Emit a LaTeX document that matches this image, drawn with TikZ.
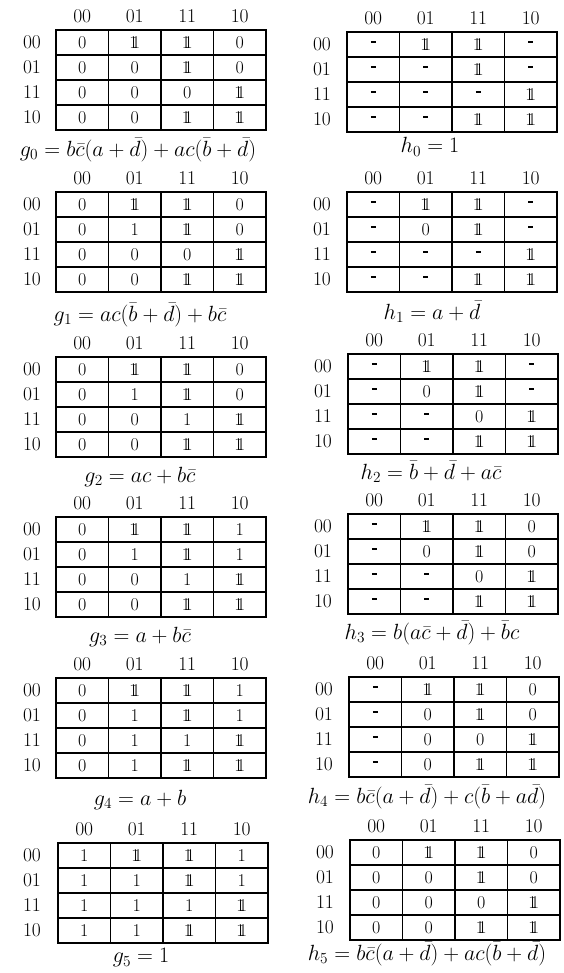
\RequirePackage{fix-cm}
\documentclass[tikz,border=0pt]{standalone}
\usepackage{amsmath}
\newcommand\dI{\ensuremath{1\kern-0.32em1}}
\newcommand\dc{\rule[4.5pt]{5pt}{1.6pt}}
\tikzset{
  lbl/.style={font=\fontsize{19.5}{22}\selectfont, inner sep=0pt},
  celltext/.style={font=\fontsize{18}{21}\selectfont, inner sep=0pt},
  frm/.style={font=\fontsize{22}{26}\selectfont, inner sep=0pt},
  gridline/.style={line width=1.3pt},
}
% #1 name, #2 grid left x, #3 grid top y, #4 label x, #5 formula x, #6 formula y, #7 formula, #8 data
\newcommand\kmap[8]{%
  \foreach \h [count=\c] in {00,01,11,10}
    \node[lbl] (#1-h\c) at ({#2+52.5*(\c-0.5)}, {#3-13.5}) {$\h$};
  \foreach \h [count=\r] in {00,01,11,10}
    \node[lbl] (#1-v\r) at (#4, {#3+12.5+25*(\r-1)}) {$\h$};
  \draw[gridline] (#2,#3) rectangle ({#2+210},{#3+100});
  \foreach \k in {1,2,3} {
    \draw[gridline] ({#2+52.5*\k},#3) -- ({#2+52.5*\k},{#3+100});
    \draw[gridline] (#2,{#3+25*\k}) -- ({#2+210},{#3+25*\k});
  }
  \foreach \row [count=\r] in {#8}
    \foreach \v [count=\c] in \row
      \node[celltext] (#1-\r-\c) at ({#2+52.5*(\c-0.5)}, {#3+12.5+25*(\r-1)}) {$\v$};
  \node[frm] (#1-f) at (#5,#6) {#7};
}
\begin{document}
\begin{tikzpicture}[x=1pt,y=-1pt]
\useasboundingbox (0,0) rectangle (564,973);
% left column
\kmap{g0}{56}{30}{32}{138}{150}{$g_0=b\bar c(a+\bar d)+ac(\bar b+\bar d)$}
  {{0,\dI,\dI,0},{0,0,\dI,0},{0,0,0,\dI},{0,0,\dI,\dI}}
\kmap{g1}{56}{192}{32}{140}{315}{$g_1=ac(\bar b+\bar d)+b\bar c$}
  {{0,\dI,\dI,0},{0,1,\dI,0},{0,0,0,\dI},{0,0,\dI,\dI}}
\kmap{g2}{56}{357}{32}{140}{477}{$g_2=ac+b\bar c$}
  {{0,\dI,\dI,0},{0,1,\dI,0},{0,0,1,\dI},{0,0,\dI,\dI}}
\kmap{g3}{56}{517}{32}{140}{637}{$g_3=a+b\bar c$}
  {{0,\dI,\dI,1},{0,1,\dI,1},{0,0,1,\dI},{0,0,\dI,\dI}}
\kmap{g4}{56}{678}{32}{140}{800}{$g_4=a+b$}
  {{0,\dI,\dI,1},{0,1,\dI,1},{0,1,1,\dI},{0,1,\dI,\dI}}
\kmap{g5}{58}{843}{32}{141}{958}{$g_5=1$}
  {{1,\dI,\dI,1},{1,1,\dI,1},{1,1,1,\dI},{1,1,\dI,\dI}}
% right column
\kmap{h0}{347}{32}{322}{430}{147}{$h_0=1$}
  {{\dc,\dI,\dI,\dc},{\dc,\dc,\dI,\dc},{\dc,\dc,\dc,\dI},{\dc,\dc,\dI,\dI}}
\kmap{h1}{347}{192}{322}{432}{312}{$h_1=a+\bar d$}
  {{\dc,\dI,\dI,\dc},{\dc,0,\dI,\dc},{\dc,\dc,\dc,\dI},{\dc,\dc,\dI,\dI}}
\kmap{h2}{348}{354}{323}{431}{472}{$h_2=\bar b+\bar d+a\bar c$}
  {{\dc,\dI,\dI,\dc},{\dc,0,\dI,\dc},{\dc,\dc,0,\dI},{\dc,\dc,\dI,\dI}}
\kmap{h3}{348}{514}{323}{432}{633}{$h_3=b(a\bar c+\bar d)+\bar b c$}
  {{\dc,\dI,\dI,0},{\dc,0,\dI,0},{\dc,\dc,0,\dI},{\dc,\dc,\dI,\dI}}
\kmap{h4}{349}{677}{324}{427}{797}{$h_4=b\bar c(a+\bar d)+c(\bar b+a\bar d)$}
  {{\dc,\dI,\dI,0},{\dc,0,\dI,0},{\dc,0,0,\dI},{\dc,0,\dI,\dI}}
\kmap{h5}{350}{840}{325}{427}{954}{$h_5=b\bar c(a+\bar d)+ac(\bar b+\bar d)$}
  {{0,\dI,\dI,0},{0,0,\dI,0},{0,0,0,\dI},{0,0,\dI,\dI}}
\end{tikzpicture}
\end{document}
